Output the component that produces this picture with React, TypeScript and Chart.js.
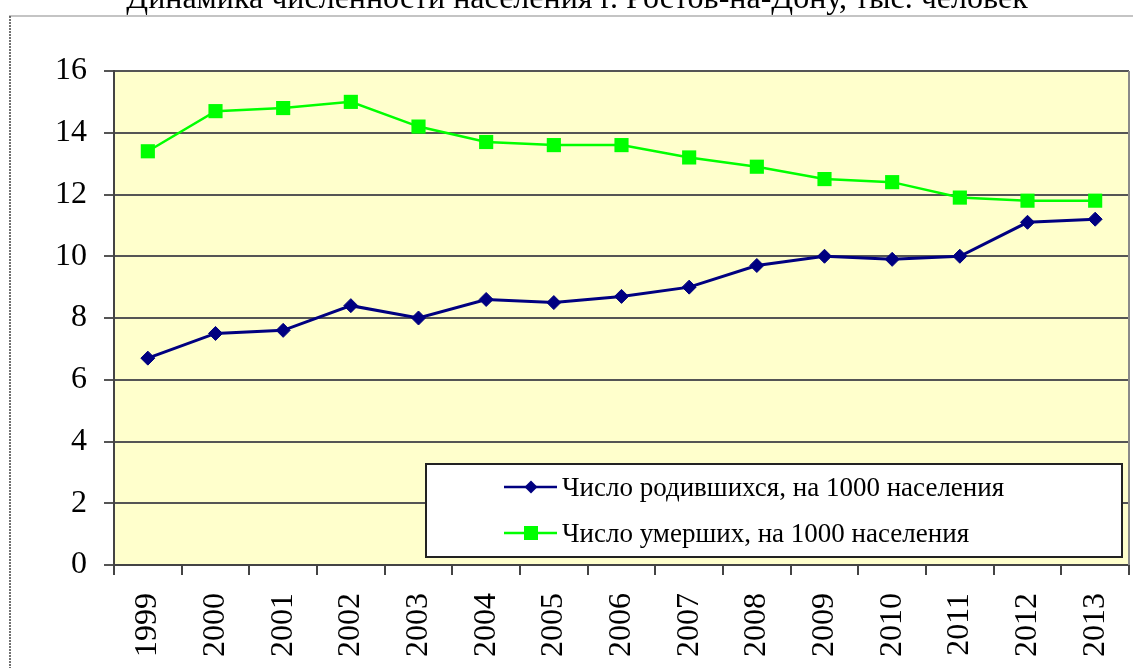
import React, { useEffect, useRef } from "react";
import { Chart, registerables } from "chart.js";

Chart.register(...registerables);

const TITLE = "Динамика численности населения г. Ростов-на-Дону, тыс. человек";
const categories = ["1999", "2000", "2001", "2002", "2003", "2004", "2005", "2006", "2007", "2008", "2009", "2010", "2011", "2012", "2013"];
const birthsLabel = "Число родившихся, на 1000 населения";
const deathsLabel = "Число умерших, на 1000 населения";
const births = [6.7, 7.5, 7.6, 8.4, 8.0, 8.6, 8.5, 8.7, 9.0, 9.7, 10.0, 9.9, 10.0, 11.1, 11.2];
const deaths = [13.4, 14.7, 14.8, 15.0, 14.2, 13.7, 13.6, 13.6, 13.2, 12.9, 12.5, 12.4, 11.9, 11.8, 11.8];
const yMin = 0;
const yMax = 16;
const yStep = 2;

const SERIF = "'Liberation Serif', 'Times New Roman', serif";
const BIRTH_COLOR = "#000080";
const DEATH_COLOR = "#00FF00";

const decorPlugin = {
  id: "decor",
  beforeDraw(chart: any) {
    const { ctx, chartArea } = chart;
    ctx.save();
    // outer frame
    ctx.strokeStyle = "#b0b0b0";
    ctx.lineWidth = 1.5;
    ctx.beginPath();
    ctx.moveTo(9, 16);
    ctx.lineTo(1133, 16);
    ctx.stroke();
    ctx.strokeStyle = "#444";
    ctx.lineWidth = 1.5;
    ctx.setLineDash([2, 1]);
    ctx.beginPath();
    ctx.moveTo(10, 16);
    ctx.lineTo(10, 668);
    ctx.stroke();
    ctx.setLineDash([]);
    // title
    ctx.fillStyle = "#000";
    ctx.font = `32px ${SERIF}`;
    ctx.textAlign = "center";
    ctx.textBaseline = "alphabetic";
    ctx.fillText(TITLE, 577, 8);
    // plot background
    ctx.fillStyle = "#FFFFCC";
    ctx.fillRect(chartArea.left, chartArea.top, chartArea.right - chartArea.left, chartArea.bottom - chartArea.top);
    ctx.restore();
  },
  beforeDatasetsDraw(chart: any) {
    const { ctx, chartArea } = chart;
    ctx.save();
    ctx.strokeStyle = "#8a8a8a";
    ctx.lineWidth = 2;
    ctx.beginPath();
    ctx.moveTo(chartArea.right, chartArea.top);
    ctx.lineTo(chartArea.right, chartArea.bottom);
    ctx.stroke();
    ctx.restore();
  },
  afterDraw(chart: any) {
    const { ctx } = chart;
    ctx.save();
    const bx = 426, by = 464, bw = 696, bh = 93;
    ctx.fillStyle = "#fff";
    ctx.fillRect(bx, by, bw, bh);
    ctx.strokeStyle = "#222";
    ctx.lineWidth = 2;
    ctx.strokeRect(bx, by, bw, bh);
    const rows = [
      { label: birthsLabel, color: BIRTH_COLOR, style: "diamond", y: 487 },
      { label: deathsLabel, color: DEATH_COLOR, style: "square", y: 533 },
    ];
    rows.forEach((r) => {
      ctx.strokeStyle = r.color;
      ctx.lineWidth = 2.5;
      ctx.beginPath();
      ctx.moveTo(504, r.y);
      ctx.lineTo(557, r.y);
      ctx.stroke();
      ctx.fillStyle = r.color;
      const mx = 531;
      if (r.style === "diamond") {
        ctx.beginPath();
        ctx.moveTo(mx, r.y - 6.5);
        ctx.lineTo(mx + 6.5, r.y);
        ctx.lineTo(mx, r.y + 6.5);
        ctx.lineTo(mx - 6.5, r.y);
        ctx.closePath();
        ctx.fill();
      } else {
        ctx.fillRect(mx - 7, r.y - 7, 14, 14);
      }
      ctx.fillStyle = "#000";
      ctx.font = `27px ${SERIF}`;
      ctx.textAlign = "left";
      ctx.textBaseline = "middle";
      ctx.fillText(r.label, 562, r.y + 2);
    });
    ctx.restore();
  },
};

export default function App() {
  const ref = useRef<HTMLCanvasElement | null>(null);
  useEffect(() => {
    if (!ref.current) return;
    const chart = new Chart(ref.current, {
      type: "line",
      data: {
        labels: categories,
        datasets: [
          {
            label: birthsLabel,
            data: births,
            borderColor: BIRTH_COLOR,
            backgroundColor: BIRTH_COLOR,
            borderWidth: 3,
            pointStyle: "rectRot",
            pointRadius: 7,
            pointBorderWidth: 1,
            tension: 0,
          },
          {
            label: deathsLabel,
            data: deaths,
            borderColor: DEATH_COLOR,
            backgroundColor: DEATH_COLOR,
            borderWidth: 2.5,
            pointStyle: "rect",
            pointRadius: 10,
            pointBorderWidth: 0,
            tension: 0,
          },
        ],
      },
      options: {
        animation: false,
        responsive: false,
        layout: { autoPadding: false, padding: { top: 71, right: 4, left: 0, bottom: 0 } },
        plugins: {
          legend: { display: false },
          title: { display: false },
          tooltip: { enabled: false },
        },
        scales: {
          x: {
            type: "category",
            offset: true,
            afterFit(scale: any) {
              scale.height = 103;
              scale.paddingLeft = 0;
              scale.paddingRight = 0;
            },
            grid: {
              offset: true,
              drawOnChartArea: false,
              drawTicks: true,
              tickLength: 10,
              color: "#444",
              lineWidth: 2,
            },
            border: { display: true, color: "#444", width: 2 },
            ticks: {
              autoSkip: false,
              minRotation: 90,
              maxRotation: 90,
              padding: 18,
              color: "#000",
              font: { family: SERIF, size: 32 },
            },
          },
          y: {
            min: yMin,
            max: yMax,
            afterFit(scale: any) {
              scale.width = 114;
              scale.paddingTop = 0;
              scale.paddingBottom = 0;
            },
            grid: {
              color: "#555",
              lineWidth: 2,
              tickLength: 10,
              drawTicks: true,
            },
            border: { display: true, color: "#444", width: 2 },
            ticks: {
              stepSize: yStep,
              padding: 17,
              color: "#000",
              font: { family: SERIF, size: 32 },
            },
          },
        },
      },
      plugins: [decorPlugin],
    });
    return () => chart.destroy();
  }, []);
  return (
    <div style={{ position: "absolute", left: 0, top: 0, width: 1133, height: 668 }}>
      <canvas ref={ref} width={1133} height={668} style={{ display: "block" }} />
    </div>
  );
}
